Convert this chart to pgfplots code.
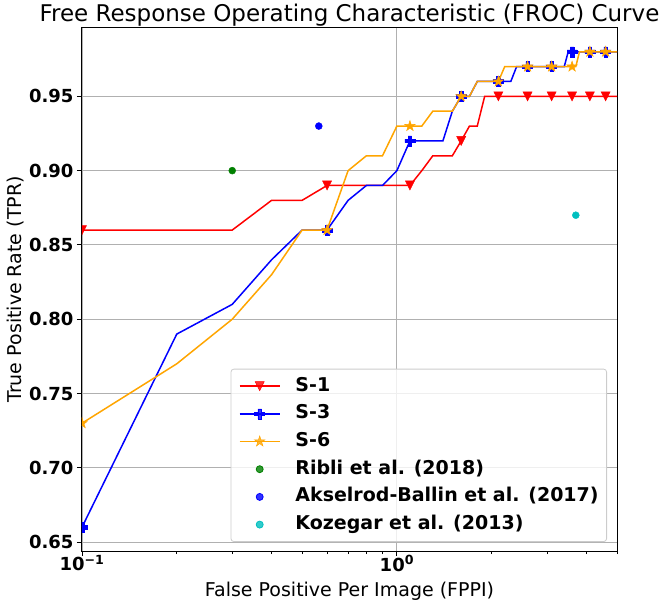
\documentclass[border=0pt]{standalone}
\usepackage{pgfplots}
\pgfplotsset{compat=1.18}
\usepackage{pgfplotstable}
\usepackage{fontspec}
\setmainfont{DejaVu Sans}
\definecolor{mplorange}{RGB}{255,165,0}
\definecolor{mplgreen}{RGB}{0,128,0}
\definecolor{mplcyan}{RGB}{0,191,191}
\definecolor{gridgray}{RGB}{176,176,176}
\definecolor{legframe}{RGB}{204,204,204}

\pgfdeclareplotmark{fstar}{%
  \pgfpathmoveto{\pgfpointpolar{90}{\pgfplotmarksize}}%
  \pgfpathlineto{\pgfpointpolar{126}{0.382\pgfplotmarksize}}%
  \pgfpathlineto{\pgfpointpolar{162}{\pgfplotmarksize}}%
  \pgfpathlineto{\pgfpointpolar{198}{0.382\pgfplotmarksize}}%
  \pgfpathlineto{\pgfpointpolar{234}{\pgfplotmarksize}}%
  \pgfpathlineto{\pgfpointpolar{270}{0.382\pgfplotmarksize}}%
  \pgfpathlineto{\pgfpointpolar{306}{\pgfplotmarksize}}%
  \pgfpathlineto{\pgfpointpolar{342}{0.382\pgfplotmarksize}}%
  \pgfpathlineto{\pgfpointpolar{18}{\pgfplotmarksize}}%
  \pgfpathlineto{\pgfpointpolar{54}{0.382\pgfplotmarksize}}%
  \pgfpathclose
  \pgfusepathqfillstroke
}
\pgfdeclareplotmark{fplus}{%
  \pgfpathmoveto{\pgfpoint{-0.36\pgfplotmarksize}{\pgfplotmarksize}}%
  \pgfpathlineto{\pgfpoint{0.36\pgfplotmarksize}{\pgfplotmarksize}}%
  \pgfpathlineto{\pgfpoint{0.36\pgfplotmarksize}{0.36\pgfplotmarksize}}%
  \pgfpathlineto{\pgfpoint{\pgfplotmarksize}{0.36\pgfplotmarksize}}%
  \pgfpathlineto{\pgfpoint{\pgfplotmarksize}{-0.36\pgfplotmarksize}}%
  \pgfpathlineto{\pgfpoint{0.36\pgfplotmarksize}{-0.36\pgfplotmarksize}}%
  \pgfpathlineto{\pgfpoint{0.36\pgfplotmarksize}{-\pgfplotmarksize}}%
  \pgfpathlineto{\pgfpoint{-0.36\pgfplotmarksize}{-\pgfplotmarksize}}%
  \pgfpathlineto{\pgfpoint{-0.36\pgfplotmarksize}{-0.36\pgfplotmarksize}}%
  \pgfpathlineto{\pgfpoint{-\pgfplotmarksize}{-0.36\pgfplotmarksize}}%
  \pgfpathlineto{\pgfpoint{-\pgfplotmarksize}{0.36\pgfplotmarksize}}%
  \pgfpathlineto{\pgfpoint{-0.36\pgfplotmarksize}{0.36\pgfplotmarksize}}%
  \pgfpathclose
  \pgfusepathqfillstroke
}
\pgfdeclareplotmark{ftri}{%
  \pgfpathmoveto{\pgfpoint{0pt}{-\pgfplotmarksize}}%
  \pgfpathlineto{\pgfpoint{\pgfplotmarksize}{\pgfplotmarksize}}%
  \pgfpathlineto{\pgfpoint{-\pgfplotmarksize}{\pgfplotmarksize}}%
  \pgfpathclose
  \pgfusepathqfillstroke
}

\pgfplotstableread{
x s1 s3 s6
0.1 0.86 0.66 0.73
0.2 0.86 0.79 0.77
0.3 0.86 0.81 0.80
0.4 0.88 0.84 0.83
0.5 0.88 0.86 0.86
0.6 0.89 0.86 0.86
0.7 0.89 0.88 0.90
0.8 0.89 0.89 0.91
0.9 0.89 0.89 0.91
1.0 0.89 0.90 0.93
1.1 0.89 0.92 0.93
1.2 0.90 0.92 0.93
1.3 0.91 0.92 0.94
1.4 0.91 0.92 0.94
1.5 0.91 0.94 0.94
1.6 0.92 0.95 0.95
1.7 0.93 0.95 0.95
1.8 0.93 0.96 0.96
1.9 0.95 0.96 0.96
2.0 0.95 0.96 0.96
2.1 0.95 0.96 0.96
2.2 0.95 0.96 0.97
2.3 0.95 0.96 0.97
2.4 0.95 0.97 0.97
2.5 0.95 0.97 0.97
2.6 0.95 0.97 0.97
2.7 0.95 0.97 0.97
2.8 0.95 0.97 0.97
2.9 0.95 0.97 0.97
3.0 0.95 0.97 0.97
3.1 0.95 0.97 0.97
3.2 0.95 0.97 0.97
3.3 0.95 0.97 0.97
3.4 0.95 0.97 0.97
3.5 0.95 0.98 0.97
3.6 0.95 0.98 0.97
3.7 0.95 0.98 0.97
3.8 0.95 0.98 0.98
3.9 0.95 0.98 0.98
4.0 0.95 0.98 0.98
4.1 0.95 0.98 0.98
4.2 0.95 0.98 0.98
4.3 0.95 0.98 0.98
4.4 0.95 0.98 0.98
4.5 0.95 0.98 0.98
4.6 0.95 0.98 0.98
4.7 0.95 0.98 0.98
4.8 0.95 0.98 0.98
4.9 0.95 0.98 0.98
5.0 0.95 0.98 0.98
}\froc

\begin{document}
\begin{tikzpicture}
\path[use as bounding box] (-82pt,-55pt) rectangle (584pt,551pt);
\begin{axis}[
  at={(0pt,0pt)}, anchor=south west,
  scale only axis, width=535pt, height=523pt,
  xmode=log, xmin=0.1, xmax=5, ymin=0.644, ymax=0.996,
  xtick={0.1,1}, xticklabels={10\textsuperscript{−1},10\textsuperscript{0}},
  minor xtick={0.2,0.3,0.4,0.5,0.6,0.7,0.8,0.9,2,3,4,5},
  ytick={0.65,0.70,0.75,0.80,0.85,0.90,0.95},
  yticklabels={0.65,0.70,0.75,0.80,0.85,0.90,0.95},
  tick label style={font=\fontsize{18}{20}\selectfont\bfseries},
  xticklabel style={yshift=4pt},
  grid=major, major grid style={gridgray, line width=0.9pt},
  tick align=outside, tick pos=left,
  major tick length=5pt, minor tick length=3pt,
  every tick/.style={black, line width=0.9pt},
  axis line style={black, line width=1pt},
  clip marker paths=true,
  title={Free Response Operating Characteristic (FROC) Curve},
  title style={font=\fontsize{23}{27}\selectfont, at={(0.5,1)}, anchor=base},
  xlabel={False Positive Per Image (FPPI)},
  xlabel style={font=\fontsize{19}{22}\selectfont, at={(0.5,0)}, anchor=base, yshift=-45pt},
  ylabel={True Positive Rate (TPR)},
  ylabel style={font=\fontsize{19}{22}\selectfont, at={([xshift=-60pt]rel axis cs:0,0.5)}, anchor=base},
  legend style={at={(1,0)}, anchor=south east, xshift=-10pt, yshift=9pt,
    draw=legframe, line width=0.8pt, rounded corners=3pt, fill=white, fill opacity=0.8, text opacity=1, draw opacity=1,
    font=\fontsize{19}{22}\selectfont\bfseries, inner xsep=8pt, inner ysep=8pt,
    row sep=9.7pt, column sep=15pt,
    nodes={inner sep=0pt, text height=14pt, text depth=4pt}},
  legend cell align=left,
  legend image code/.code={\draw[mark repeat=2, mark phase=2] plot coordinates {(0pt,0pt) (20pt,0pt) (40pt,0pt)};},
]
\addplot[red, line width=1.5pt, mark=ftri, mark size=4.5pt, mark repeat=5, mark options={solid, fill=red, line width=0.5pt}] table[x=x, y=s1] {\froc};
\addlegendentry{S-1}
\addplot[blue, line width=1.5pt, mark=fplus, mark size=5pt, mark repeat=5, mark options={solid, fill=blue, line width=0.5pt}] table[x=x, y=s3] {\froc};
\addlegendentry{S-3}
\addplot[mplorange, line width=1.5pt, mark=fstar, mark size=5.5pt, mark repeat=5, mark options={solid, fill=mplorange, line width=0.5pt}] table[x=x, y=s6] {\froc};
\addlegendentry{S-6}
\addplot[only marks, mark=*, mark size=3.5pt, mplgreen, mark options={fill=mplgreen}] coordinates {(0.3,0.90)};
\addlegendentry{Ribli et al. (2018)}
\addplot[only marks, mark=*, mark size=3.5pt, blue, mark options={fill=blue}] coordinates {(0.565,0.93)};
\addlegendentry{Akselrod-Ballin et al. (2017)}
\addplot[only marks, mark=*, mark size=3.5pt, mplcyan, mark options={fill=mplcyan}] coordinates {(3.7,0.87)};
\addlegendentry{Kozegar et al. (2013)}
\end{axis}
\end{tikzpicture}
\end{document}
